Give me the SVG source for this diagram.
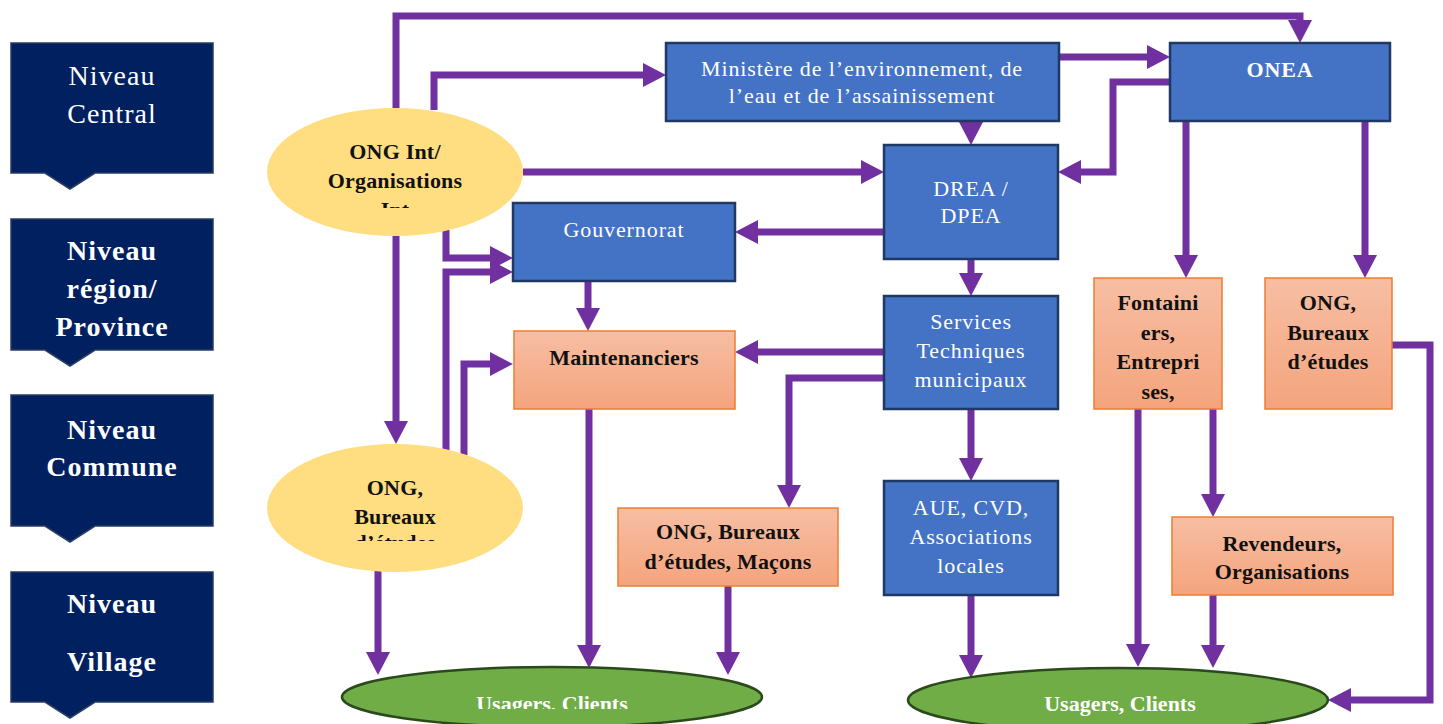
<svg xmlns="http://www.w3.org/2000/svg" width="1443" height="724" viewBox="0 0 1443 724">
<defs>
<linearGradient id="og" x1="0" y1="0" x2="0" y2="1"><stop offset="0" stop-color="#F7BEA3"/><stop offset="1" stop-color="#F4A47D"/></linearGradient>
<marker id="ah" markerUnits="userSpaceOnUse" markerWidth="24" markerHeight="24" refX="1" refY="12" orient="auto"><path d="M0,0 L23,12 L0,24 Z" fill="#7030A0"/></marker>
<clipPath id="c1"><rect x="260" y="100" width="270" height="108"/></clipPath>
<clipPath id="c2"><rect x="260" y="440" width="270" height="101"/></clipPath>
<clipPath id="c3"><rect x="340" y="660" width="430" height="49"/></clipPath>
</defs>
<style>
.lvl{fill:#002060;stroke:#2A3B63;stroke-width:1.5}
.lt{font-family:"Liberation Serif",serif;font-size:28px;fill:#fff;text-anchor:middle;letter-spacing:1px}
.blue{fill:#4472C4;stroke:#1F3864;stroke-width:2.5}
.org{fill:url(#og);stroke:#ED7D31;stroke-width:1.5}
.yel{fill:#FFDE81}
.grn{fill:#70AD47;stroke:#2B4A1C;stroke-width:2.5}
.wt{font-family:"Liberation Serif",serif;font-size:22px;fill:#fff;text-anchor:middle;letter-spacing:0.9px}
.bt{font-family:"Liberation Serif",serif;font-size:22px;font-weight:bold;fill:#111;text-anchor:middle;letter-spacing:0.2px}
.gt{font-family:"Liberation Serif",serif;font-size:22px;font-weight:bold;fill:#fff;text-anchor:middle}
.cn path{fill:none;stroke:#7030A0;stroke-width:7;marker-end:url(#ah)}
</style>
<g id="niveau-central"><polygon class="lvl" points="11,43 213,43 213,173 95,173 70,189 45,173 11,173"/><text class="lt" x="112" y="85">Niveau</text><text class="lt" x="112" y="123">Central</text></g>
<g id="niveau-region"><polygon class="lvl" points="11,219 213,219 213,350 95,350 70,366 45,350 11,350"/><text class="lt" x="112" y="260" font-weight="bold">Niveau</text><text class="lt" x="112" y="298" font-weight="bold">région/</text><text class="lt" x="112" y="336" font-weight="bold">Province</text></g>
<g id="niveau-commune"><polygon class="lvl" points="11,395 213,395 213,526 95,526 70,542 45,526 11,526"/><text class="lt" x="112" y="439" font-weight="bold">Niveau</text><text class="lt" x="112" y="476" font-weight="bold">Commune</text></g>
<g id="niveau-village"><polygon class="lvl" points="11,572 213,572 213,702 95,702 70,718 45,702 11,702"/><text class="lt" x="112" y="613" font-weight="bold">Niveau</text><text class="lt" x="112" y="671" font-weight="bold">Village</text></g>

<g id="connectors" class="cn">
<path d="M396,108 V16 H1300 V21"/>
<path d="M434,110 V75 H644"/>
<path d="M523,172 H862"/>
<path d="M446,230 V258 H491"/>
<path d="M446,450 V272 H491"/>
<path d="M464,455 V364 H491"/>
<path d="M396,236 V422"/>
<path d="M378,571 V653"/>
<path d="M971,121 V123"/>
<path d="M1059,57 H1148"/>
<path d="M1170,82 H1113 V172 H1080"/>
<path d="M884,232 H757"/>
<path d="M971,259 V274"/>
<path d="M588,281 V309"/>
<path d="M884,352 H757"/>
<path d="M884,378 H789 V486"/>
<path d="M971,409 V459"/>
<path d="M971,595 V656"/>
<path d="M589,409 V646"/>
<path d="M728,586 V653"/>
<path d="M1186,121 V256"/>
<path d="M1365,121 V256"/>
<path d="M1138,409 V645"/>
<path d="M1213,409 V495"/>
<path d="M1213,595 V646"/>
<path d="M1392,345 H1430 V700 H1350"/>
</g>

<g id="ong-int"><ellipse class="yel" cx="395" cy="172" rx="128" ry="64"/><g clip-path="url(#c1)"><text class="bt" x="395" y="159">ONG Int/</text><text class="bt" x="395" y="188">Organisations</text><text class="bt" x="395" y="217">Int</text></g></g>
<g id="ong-bureaux-left"><ellipse class="yel" cx="395" cy="508" rx="128" ry="64"/><g clip-path="url(#c2)"><text class="bt" x="395" y="495">ONG,</text><text class="bt" x="395" y="524">Bureaux</text><text class="bt" x="395" y="550">d’études</text></g></g>
<g id="ministere"><rect class="blue" x="666" y="43" width="393" height="78"/><text class="wt" x="862" y="76">Ministère de l’environnement, de</text><text class="wt" x="862" y="103">l’eau et de l’assainissement</text></g>
<g id="onea"><rect class="blue" x="1170" y="43" width="220" height="78"/><text class="wt" x="1280" y="77" font-weight="bold">ONEA</text></g>
<g id="drea"><rect class="blue" x="884" y="145" width="174" height="114"/><text class="wt" x="971" y="196">DREA /</text><text class="wt" x="971" y="223">DPEA</text></g>
<g id="gouvernorat"><rect class="blue" x="513" y="203" width="222" height="78"/><text class="wt" x="624" y="237">Gouvernorat</text></g>
<g id="services"><rect class="blue" x="884" y="296" width="174" height="113"/><text class="wt" x="971" y="329">Services</text><text class="wt" x="971" y="358">Techniques</text><text class="wt" x="971" y="387">municipaux</text></g>
<g id="aue"><rect class="blue" x="884" y="481" width="174" height="114"/><text class="wt" x="971" y="515">AUE, CVD,</text><text class="wt" x="971" y="544">Associations</text><text class="wt" x="971" y="573">locales</text></g>
<g id="maintenanciers"><rect class="org" x="514" y="331" width="221" height="78"/><text class="bt" x="624" y="365">Maintenanciers</text></g>
<g id="ong-macons"><rect class="org" x="618" y="508" width="220" height="78"/><text class="bt" x="728" y="539">ONG, Bureaux</text><text class="bt" x="728" y="569">d’études, Maçons</text></g>
<g id="fontainiers"><rect class="org" x="1094" y="278" width="128" height="131"/><text class="bt" x="1158" y="310">Fontaini</text><text class="bt" x="1158" y="340">ers,</text><text class="bt" x="1158" y="369">Entrepri</text><text class="bt" x="1158" y="399">ses,</text></g>
<g id="ong-bureaux-right"><rect class="org" x="1265" y="278" width="127" height="131"/><text class="bt" x="1328" y="310">ONG,</text><text class="bt" x="1328" y="340">Bureaux</text><text class="bt" x="1328" y="369">d’études</text></g>
<g id="revendeurs"><rect class="org" x="1172" y="517" width="221" height="78"/><text class="bt" x="1282" y="551">Revendeurs,</text><text class="bt" x="1282" y="579">Organisations</text></g>
<g id="usagers-left"><ellipse class="grn" cx="552" cy="697" rx="210" ry="30"/><g clip-path="url(#c3)"><text class="gt" x="552" y="711">Usagers, Clients</text></g></g>
<g id="usagers-right"><ellipse class="grn" cx="1118" cy="700" rx="210" ry="32"/><text class="gt" x="1120" y="711">Usagers, Clients</text></g>
</svg>
